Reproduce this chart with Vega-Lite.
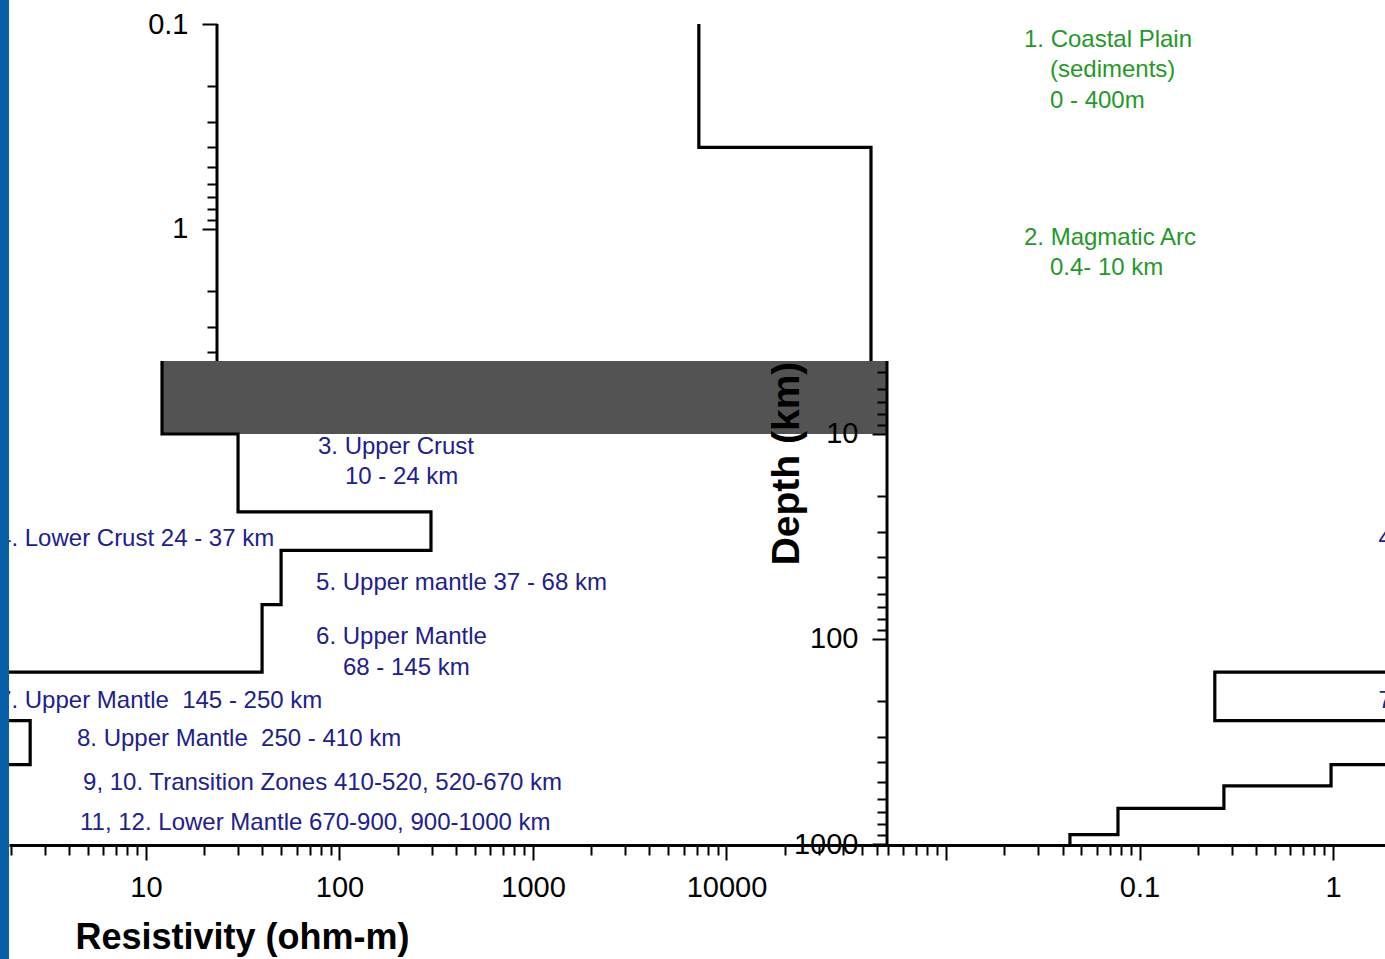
{
  "$schema": "https://vega.github.io/schema/vega-lite/v6.json",
  "padding": {"left": 9, "top": 0, "right": 0, "bottom": 0},
  "background": "#0a5ea8",
  "spacing": 0,
  "bounds": "flush",
  "config": {
    "font": "Liberation Sans",
    "view": {"stroke": null, "fill": "#ffffff"},
    "axis": {"grid": false, "labelColor": "#000000", "titleColor": "#000000", "tickColor": "#000000", "labelFontSize": 29, "labelOverlap": false, "labelBound": false, "labelFlush": false, "tickWidth": 2, "labelFont": "Liberation Sans"}
  },
  "datasets": {
    "profile": [
      {"seq": 0, "depth": 0.1, "rho": 1.56},
      {"seq": 1, "depth": 0.4, "rho": 1.56},
      {"seq": 2, "depth": 0.4, "rho": 12.1},
      {"seq": 3, "depth": 10, "rho": 12.1},
      {"seq": 4, "depth": 10, "rho": 29.9},
      {"seq": 5, "depth": 24, "rho": 29.9},
      {"seq": 6, "depth": 24, "rho": 297},
      {"seq": 7, "depth": 37, "rho": 297},
      {"seq": 8, "depth": 37, "rho": 49.9},
      {"seq": 9, "depth": 68, "rho": 49.9},
      {"seq": 10, "depth": 68, "rho": 39.8},
      {"seq": 11, "depth": 145, "rho": 39.8},
      {"seq": 12, "depth": 145, "rho": 0.245},
      {"seq": 13, "depth": 250, "rho": 0.245},
      {"seq": 14, "depth": 250, "rho": 2.52},
      {"seq": 15, "depth": 410, "rho": 2.52},
      {"seq": 16, "depth": 410, "rho": 0.977},
      {"seq": 17, "depth": 520, "rho": 0.977},
      {"seq": 18, "depth": 520, "rho": 0.273},
      {"seq": 19, "depth": 670, "rho": 0.273},
      {"seq": 20, "depth": 670, "rho": 0.0774},
      {"seq": 21, "depth": 900, "rho": 0.0774},
      {"seq": 22, "depth": 900, "rho": 0.0437},
      {"seq": 23, "depth": 1000, "rho": 0.0437}
    ],
    "notesTop": [
      {"text": "1. Coastal Plain", "rho": 74.7, "depth": 0.1197},
      {"text": "(sediments)", "rho": 101.8, "depth": 0.1676},
      {"text": "0 - 400m", "rho": 101.8, "depth": 0.2374},
      {"text": "2. Magmatic Arc", "rho": 74.7, "depth": 1.106},
      {"text": "0.4- 10 km", "rho": 101.8, "depth": 1.55}
    ],
    "notesBottom": [
      {"text": "3. Upper Crust", "rho": 77.4, "depth": 11.56},
      {"text": "10 - 24 km", "rho": 106.7, "depth": 16.2},
      {"text": "4. Lower Crust 24 - 37 km", "rho": 1.72, "depth": 32.5},
      {"text": "5. Upper mantle 37 - 68 km", "rho": 75.7, "depth": 53.3},
      {"text": "6. Upper Mantle", "rho": 75.7, "depth": 97.7},
      {"text": "68 - 145 km", "rho": 104.2, "depth": 138.4},
      {"text": "7. Upper Mantle \u00a0145 - 250 km", "rho": 1.72, "depth": 200.6},
      {"text": "8. Upper Mantle \u00a0250 - 410 km", "rho": 4.40, "depth": 307.5},
      {"text": "9, 10. Transition Zones 410-520, 520-670 km", "rho": 4.73, "depth": 503.9},
      {"text": "11, 12. Lower Mantle 670-900, 900-1000 km", "rho": 4.56, "depth": 790}
    ],
    "band": [{"rho": 12.1, "rho2": 67500, "depth": 0.4, "depth2": 10}]
  },
  "vconcat": [
    {
      "width": 1376,
      "height": 361,
      "encoding": {
        "x": {"field": "rho", "type": "quantitative", "scale": {"type": "log", "domain": [0.00042467, 5485], "nice": false}, "axis": null},
        "y": {
          "field": "depth", "type": "quantitative",
          "scale": {"type": "log", "domain": [0.076366, 4.4055], "nice": false, "reverse": true},
          "axis": {
            "orient": "left", "offset": -208, "domain": false, "title": null,
            "values": [0.1, 0.2, 0.3, 0.4, 0.5, 0.6, 0.7, 0.8, 0.9, 1, 2, 3, 4],
            "labelExpr": "datum.value == 0.1 ? '0.1' : (datum.value == 1 ? '1' : '')",
            "tickSize": {"condition": {"test": "datum.value == 0.1 || datum.value == 1", "value": 15}, "value": 10},
            "labelPadding": 14
          }
        }
      },
      "layer": [
        {"data": {"name": "profile"}, "mark": {"type": "line", "clip": true, "color": "#000000", "strokeWidth": 3.2, "strokeJoin": "miter"}, "encoding": {"order": {"field": "seq", "type": "quantitative"}}},
        {"data": {"values": [{"rho": 0.0050466, "depth": 0.1, "depth2": 10}]}, "mark": {"type": "rule", "clip": true, "color": "#000000", "strokeWidth": 3}, "encoding": {"y2": {"field": "depth2"}}},
        {"data": {"name": "notesTop"}, "mark": {"type": "text", "clip": true, "align": "left", "baseline": "middle", "fontSize": 24, "color": "#1f9a26"}, "encoding": {"text": {"field": "text"}}}
      ]
    },
    {
      "width": 1376,
      "height": 598,
      "encoding": {
        "y": {
          "field": "depth", "type": "quantitative",
          "scale": {"type": "log", "domain": [4.4055, 3638.7], "nice": false, "reverse": true},
          "axis": {
            "orient": "left", "offset": -878, "domain": false, "zindex": 1,
            "values": [5, 6, 7, 8, 9, 10, 20, 30, 40, 50, 60, 70, 80, 90, 100, 200, 300, 400, 500, 600, 700, 800, 900, 1000],
            "labelExpr": "datum.value == 10 ? '10' : (datum.value == 100 ? '100' : (datum.value == 1000 ? '1000' : ''))",
            "tickSize": {"condition": {"test": "datum.value == 10 || datum.value == 100 || datum.value == 1000", "value": 15}, "value": 10},
            "labelPadding": 14,
            "title": "Depth (km)", "titleFontSize": 39, "titleFontWeight": "bold", "titleX": -101, "titleY": 102, "titleBaseline": "middle", "titleAlign": "center", "titleAngle": -90
          }
        }
      },
      "resolve": {"scale": {"x": "independent"}, "axis": {"x": "independent"}},
      "layer": [
        {
          "encoding": {
            "x": {
              "field": "rho", "type": "quantitative",
              "scale": {"type": "log", "domain": [1.9588, 25300000], "nice": false},
              "axis": {
                "orient": "bottom", "offset": -114, "domain": true, "domainColor": "#000000", "domainWidth": 3,
                "values": [2, 3, 4, 5, 6, 7, 8, 9, 10, 20, 30, 40, 50, 60, 70, 80, 90, 100, 200, 300, 400, 500, 600, 700, 800, 900, 1000, 2000, 3000, 4000, 5000, 6000, 7000, 8000, 9000, 10000, 20000, 30000, 40000, 50000, 60000],
                "labelExpr": "datum.value == 10 ? '10' : (datum.value == 100 ? '100' : (datum.value == 1000 ? '1000' : (datum.value == 10000 ? '10000' : '')))",
                "tickSize": {"condition": {"test": "datum.value == 10 || datum.value == 100 || datum.value == 1000 || datum.value == 10000", "value": 15}, "value": 10},
                "labelPadding": 13,
                "title": "Resistivity (ohm-m)", "titleFontSize": 36, "titleFontWeight": "bold", "titleX": 233, "titleY": 92, "titleBaseline": "middle", "titleAlign": "center"
              }
            }
          },
          "layer": [
            {"data": {"name": "band"}, "mark": {"type": "rect", "clip": true, "color": "#535353"}, "encoding": {"x2": {"field": "rho2"}, "y2": {"field": "depth2"}}},
            {"data": {"name": "profile"}, "mark": {"type": "line", "clip": true, "color": "#000000", "strokeWidth": 3.2, "strokeJoin": "miter"}, "encoding": {"order": {"field": "seq", "type": "quantitative"}}},
            {"data": {"name": "notesBottom"}, "mark": {"type": "text", "clip": true, "align": "left", "baseline": "middle", "fontSize": 24, "color": "#20208e"}, "encoding": {"text": {"field": "text"}}}
          ]
        },
        {
          "encoding": {
            "x": {
              "field": "rho", "type": "quantitative",
              "scale": {"type": "log", "domain": [1.4374e-7, 1.8566], "nice": false},
              "axis": {
                "orient": "bottom", "offset": -114, "domain": false, "title": null,
                "values": [0.005, 0.006, 0.007, 0.008, 0.009, 0.01, 0.02, 0.03, 0.04, 0.05, 0.06, 0.07, 0.08, 0.09, 0.1, 0.2, 0.3, 0.4, 0.5, 0.6, 0.7, 0.8, 0.9, 1],
                "labelExpr": "datum.value == 0.1 ? '0.1' : (datum.value == 1 ? '1' : '')",
                "tickSize": {"condition": {"test": "datum.value == 0.01 || datum.value == 0.1 || datum.value == 1", "value": 15}, "value": 10},
                "labelPadding": 13
              }
            }
          },
          "layer": [
            {"data": {"name": "profile"}, "mark": {"type": "line", "clip": true, "color": "#000000", "strokeWidth": 3.2, "strokeJoin": "miter"}, "encoding": {"order": {"field": "seq", "type": "quantitative"}}},
            {"data": {"values": [{"rho": 0.0049555, "depth": 1, "depth2": 1000}]}, "mark": {"type": "rule", "clip": true, "color": "#000000", "strokeWidth": 3}, "encoding": {"y2": {"field": "depth2"}}},
            {"data": {"name": "notesBottom"}, "transform": [{"filter": "datum.rho < 1.8"}], "mark": {"type": "text", "clip": true, "align": "left", "baseline": "middle", "fontSize": 24, "color": "#20208e"}, "encoding": {"text": {"field": "text"}}}
          ]
        }
      ]
    }
  ]
}
